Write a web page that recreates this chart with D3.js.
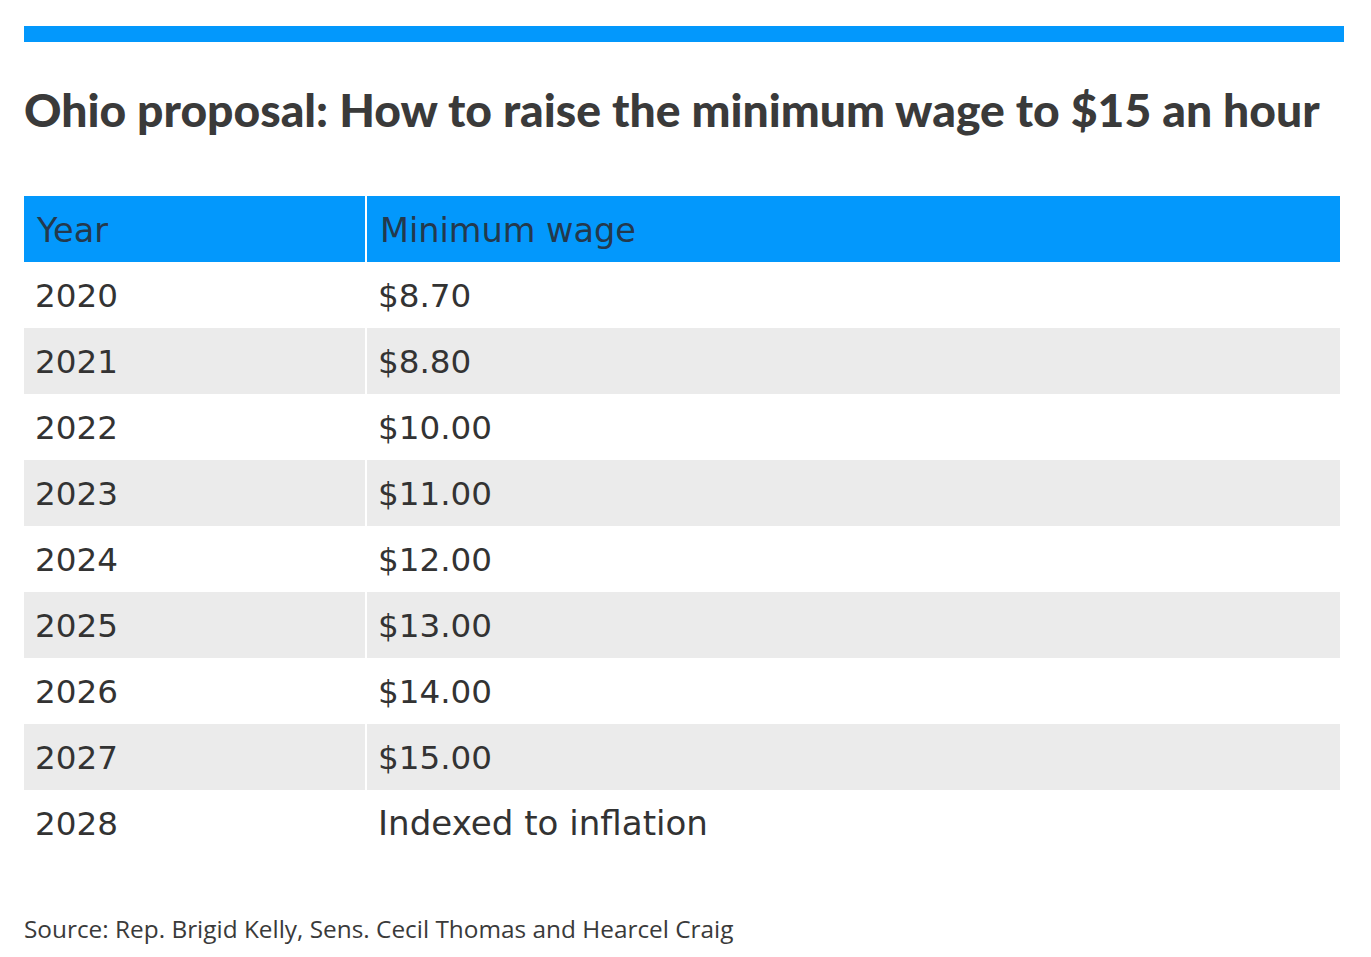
<!DOCTYPE html>
<html><head><meta charset="utf-8">
<script src="https://cdn.jsdelivr.net/npm/d3@7"></script>
<style>html,body{margin:0;padding:0;background:#fff;}</style>
</head><body>
<svg id="c" width="1371" height="957"></svg>
<script>
const title = "Ohio proposal: How to raise the minimum wage to $15 an hour";
const headers = ["Year", "Minimum wage"];
const years = ["2020","2021","2022","2023","2024","2025","2026","2027","2028"];
const wages = ["$8.70","$8.80","$10.00","$11.00","$12.00","$13.00","$14.00","$15.00","Indexed to inflation"];
const source = "Source: Rep. Brigid Kelly, Sens. Cecil Thomas and Hearcel Craig";

const svg = d3.select("#c");
const blue = "#0398fc", grey = "#ebebeb", ink = "#333333", headInk = "#23394d";
const left = 24, right = 1340, divX = 366;

function fit(sel, target){
  const w = sel.node().getComputedTextLength();
  const fs = parseFloat(sel.attr("font-size"));
  return fs * target / w;
}

svg.append("rect").attr("x", left).attr("y", 26).attr("width", 1344-left).attr("height", 16).attr("fill", blue);

const t = svg.append("text").attr("x", left).attr("y", 127)
  .attr("font-family", "Lato").attr("font-weight", 900).attr("font-size", 40)
  .attr("fill", "#3a3a3a").text(title);
t.attr("font-size", fit(t, 1296));

const rowScale = d3.scaleBand().domain(d3.range(years.length + 1)).range([196, 856]).padding(0);
const colX = d3.scaleOrdinal().domain([0,1]).range([left, divX + 1]);
const colW = [divX - 1 - left, right - divX - 1];

[0,1].forEach(c => {
  svg.append("rect").attr("x", colX(c)).attr("y", rowScale(0)).attr("width", colW[c]).attr("height", rowScale.bandwidth()).attr("fill", blue);
});
const h0 = svg.append("text").attr("x", 37).attr("y", rowScale(0) + rowScale.bandwidth()/2 + 13)
  .attr("font-family", "DejaVu Sans").attr("font-size", 32).attr("fill", headInk).text(headers[0]);
const h1 = svg.append("text").attr("x", 380).attr("y", rowScale(0) + rowScale.bandwidth()/2 + 13)
  .attr("font-family", "DejaVu Sans").attr("font-size", 32).attr("fill", headInk).text(headers[1]);
const hfs = fit(h1, 256);
h0.attr("font-size", hfs); h1.attr("font-size", hfs);

let bfs = null;
years.forEach((y, i) => {
  const top = rowScale(i + 1), bh = rowScale.bandwidth();
  if (i % 2 === 1) {
    [0,1].forEach(c => svg.append("rect").attr("x", colX(c)).attr("y", top).attr("width", colW[c]).attr("height", bh).attr("fill", grey));
  }
  const ty = svg.append("text").attr("x", 35).attr("y", top + bh/2 + 12)
    .attr("font-family", "DejaVu Sans").attr("font-size", 32).attr("fill", ink).text(y);
  if (bfs === null) bfs = fit(ty, 83);
  ty.attr("font-size", bfs);
  const tw = svg.append("text").attr("x", 378).attr("y", top + bh/2 + 12)
    .attr("font-family", "DejaVu Sans").attr("font-size", bfs).attr("fill", ink).text(wages[i]);
  if (wages[i].indexOf("$") !== 0) tw.attr("font-size", fit(tw, 330));
});

const s = svg.append("text").attr("x", left).attr("y", 938)
  .attr("font-family", "Open Sans").attr("font-size", 22).attr("fill", "#3a3a3a").text(source);
s.attr("font-size", fit(s, 710));
</script>
</body></html>
